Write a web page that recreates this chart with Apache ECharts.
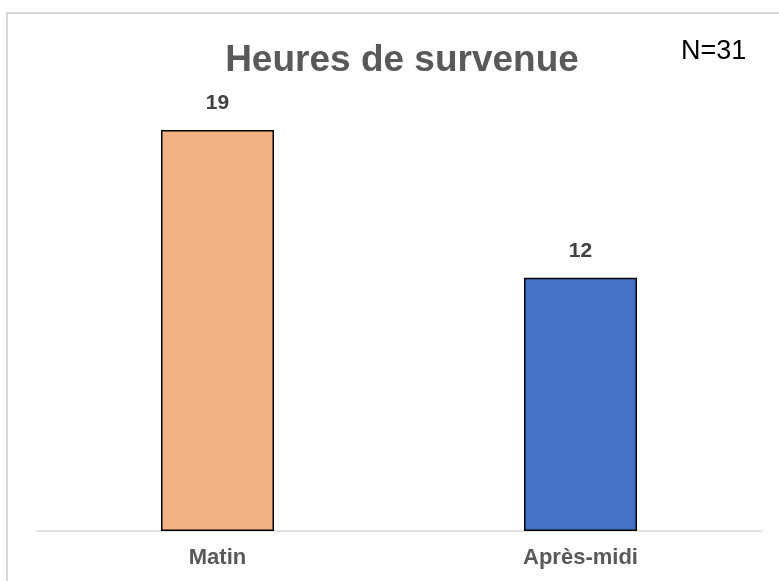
<!DOCTYPE html>
<html>
<head>
<meta charset="utf-8">
<title>Heures de survenue</title>
<script src="https://cdn.jsdelivr.net/npm/echarts@6/dist/echarts.min.js"></script>
<style>
  html, body { margin: 0; padding: 0; background: #fff; }
  #chart { width: 779px; height: 581px; }
</style>
</head>
<body>
<div id="chart"></div>
<script>
// données
const categories = ["Matin", "Après-midi"];
const counts = [19, 12];
const barColors = ["#F4B183", "#4472C4"];
const totalLabel = "N=31";

const font = "'Liberation Sans', Arial, sans-serif";

const chart = echarts.init(document.getElementById("chart"));
chart.setOption({
  animation: false,
  backgroundColor: "#fff",
  title: [
    {
      text: "Heures de survenue",
      left: 397,
      top: 37,
      textAlign: "center",
      textStyle: { fontFamily: font, fontSize: 37, fontWeight: "bold", color: "#595959" }
    },
    {
      text: totalLabel,
      left: 676,
      top: 33,
      textStyle: { fontFamily: font, fontSize: 27, fontWeight: "normal", color: "#000" }
    }
  ],
  graphic: [
    {
      type: "rect",
      shape: { x: 7, y: 13, width: 820, height: 620 },
      style: { fill: null, stroke: "#d9d9d9", lineWidth: 2 },
      silent: true,
      z: -1
    }
  ],
  grid: { left: 36, right: 17, top: 109, bottom: 50 },
  xAxis: {
    type: "category",
    data: categories,
    axisLine: { lineStyle: { color: "#d9d9d9", width: 1.5 } },
    axisTick: { show: false },
    axisLabel: {
      margin: 16,
      fontFamily: font,
      fontSize: 22,
      fontWeight: "bold",
      color: "#595959"
    }
  },
  yAxis: {
    type: "value",
    min: 0,
    max: 20,
    show: false,
    splitLine: { show: false }
  },
  series: [
    {
      type: "bar",
      barWidth: 113,
      data: counts.map((v, i) => ({ value: v, itemStyle: { color: barColors[i] } })),
      itemStyle: { borderColor: "#000", borderWidth: 1.5 },
      label: {
        show: true,
        position: "top",
        distance: 16,
        fontFamily: font,
        fontSize: 21,
        fontWeight: "bold",
        color: "#404040"
      }
    }
  ]
});
</script>
</body>
</html>
